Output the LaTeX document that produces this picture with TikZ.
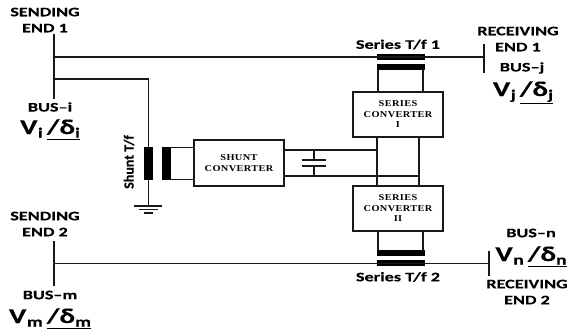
\documentclass[tikz,border=0pt]{standalone}
\usepackage{fontspec}
\setmainfont{Carlito}
\newfontfamily\lblfont{Carlito Bold}[FakeStretch=1.4,FakeBold=0.25]
\newfontfamily\plainbold{Carlito Bold}[FakeBold=0.25]
\newfontfamily\convfont{Liberation Serif Bold}[FakeStretch=1.15,LetterSpace=4]
\newcommand{\phasorlabel}[2]{{\lblfont\fontsize{21}{21}\selectfont V\kern0.5pt\raisebox{-3.5pt}{\fontsize{14}{14}\selectfont #1}\kern4pt\underline{/δ\raisebox{-3.5pt}{\fontsize{14}{14}\selectfont #2}}}}
\tikzset{
  wire/.style={line width=1.5pt,black!90},
  busbar/.style={line width=1.7pt,black!90},
  boxnode/.style={draw=black!90,line width=1.7pt,fill=white,inner sep=0pt,align=center,font=\convfont\fontsize{9}{10.5}\selectfont},
  core/.style={fill=black,draw=none,inner sep=0pt},
  lbl/.style={inner sep=0pt,align=center,font=\lblfont\fontsize{13}{16}\selectfont},
  sidelbl/.style={inner sep=0pt,rotate=90,font=\plainbold\fontsize{14}{16}\selectfont},
  phasor/.style={inner sep=0pt,anchor=base}
}
\begin{document}
\begin{tikzpicture}[x=1pt,y=-1pt]
\useasboundingbox (0,0) rectangle (570,335);
% boxes
\node[boxnode,minimum width=90pt,minimum height=46pt] (shunt) at (239,163) {SHUNT\\CONVERTER};
\node[boxnode,minimum width=90pt,minimum height=45pt] (ser1) at (398,114.5) {SERIES\\CONVERTER\\I};
\node[boxnode,minimum width=90pt,minimum height=45pt] (ser2) at (398,208.5) {SERIES\\CONVERTER\\II};
% transformer cores
\node[core,minimum width=48pt,minimum height=6pt] (t1p) at (401,57) {};
\node[core,minimum width=48pt,minimum height=6pt] (t1s) at (401,67) {};
\node[core,minimum width=48pt,minimum height=6pt] (t2s) at (401,253) {};
\node[core,minimum width=48pt,minimum height=6pt] (t2p) at (401,263) {};
\node[core,minimum width=9pt,minimum height=33pt] (shp) at (148.5,163.5) {};
\node[core,minimum width=9pt,minimum height=33pt] (shs) at (166,163.5) {};
% bus ends
\coordinate (bi1) at (54,34); \coordinate (bi2) at (54,99);
\coordinate (bj1) at (484,44); \coordinate (bj2) at (484,73);
\coordinate (bm1) at (54,241); \coordinate (bm2) at (54,286);
\coordinate (bn1) at (489,251); \coordinate (bn2) at (489,276);
\coordinate (ti) at (54,57); \coordinate (tj) at (484,57);
\coordinate (bri) at (54,79); \coordinate (brc) at (148.5,79);
\coordinate (tm) at (54,263.5); \coordinate (tn) at (489,263.5);
\draw[busbar] (bi1) -- (bi2);
\draw[busbar] (bj1) -- (bj2);
\draw[busbar] (bm1) -- (bm2);
\draw[busbar] (bn1) -- (bn2);
% lines
\draw[wire] (ti) -- (tj);
\draw[wire] (tm) -- (tn);
\draw[wire] (bri) -- (brc) -- (shp.north);
% ground
\coordinate (g0) at (148.5,206);
\coordinate (g1a) at (134,206); \coordinate (g1b) at (162,206);
\coordinate (g2a) at (139,209.5); \coordinate (g2b) at (158,209.5);
\coordinate (g3a) at (144,213); \coordinate (g3b) at (153,213);
\draw[wire] (shp.south) -- (g0);
\draw[wire] (g1a) -- (g1b);
\draw[wire] (g2a) -- (g2b);
\draw[wire] (g3a) -- (g3b);
% shunt secondary
\coordinate (sa1) at (169,147.7); \coordinate (sa2) at (194,147.7);
\coordinate (sb1) at (169,179.3); \coordinate (sb2) at (194,179.3);
\draw[wire] (sa1) -- (sa2);
\draw[wire] (sb1) -- (sb2);
% dc link
\coordinate (dcT1) at (284,150); \coordinate (dcT2) at (377,150);
\coordinate (dcB1) at (284,176); \coordinate (dcB2) at (419,176);
\coordinate (c1) at (314,150); \coordinate (c2) at (314,160);
\coordinate (c3) at (314,166); \coordinate (c4) at (314,176);
\coordinate (p1a) at (302,160); \coordinate (p1b) at (326,160);
\coordinate (p2a) at (302,166); \coordinate (p2b) at (326,166);
\draw[wire] (dcT1) -- (dcT2);
\draw[wire] (dcB1) -- (dcB2);
\draw[wire] (c1) -- (c2);
\draw[wire] (c3) -- (c4);
\draw[wire] (p1a) -- (p1b);
\draw[wire] (p2a) -- (p2b);
% verticals between series converters
\coordinate (v1t) at (377,137); \coordinate (v1b) at (377,186);
\coordinate (v2t) at (419,137); \coordinate (v2b) at (419,186);
\draw[busbar] (v1t) -- (v1b);
\draw[busbar] (v2t) -- (v2b);
% series transformer leads
\coordinate (a1t) at (378,70); \coordinate (a1b) at (378,92);
\coordinate (a2t) at (423,70); \coordinate (a2b) at (423,92);
\coordinate (b1t) at (378,231); \coordinate (b1b) at (378,250);
\coordinate (b2t) at (423,231); \coordinate (b2b) at (423,250);
\draw[busbar] (a1t) -- (a1b);
\draw[busbar] (a2t) -- (a2b);
\draw[busbar] (b1t) -- (b1b);
\draw[busbar] (b2t) -- (b2b);
% labels
\node[lbl] (se1) at (45,20) {SENDING\\END 1};
\node[lbl] (busi) at (50,107) {BUS–i};
\node[phasor] (vi) at (50,134) {\phasorlabel{i}{i}};
\node[lbl] (re1) at (518,39) {RECEIVING\\END 1};
\node[lbl] (busj) at (522,68) {BUS–j};
\node[phasor] (vj) at (523,96) {\phasorlabel{j}{j}};
\node[lbl] (se2) at (45,224) {SENDING\\END 2};
\node[lbl] (busm) at (50,295) {BUS–m};
\node[phasor] (vm) at (50,323) {\phasorlabel{m}{m}};
\node[lbl] (busn) at (531,233) {BUS–n};
\node[phasor] (vn) at (531,261) {\phasorlabel{n}{n}};
\node[lbl] (re2) at (527,292) {RECEIVING\\END 2};
\node[lbl] (st1) at (398,44.5) {Series T/f 1};
\node[lbl] (st2) at (398,277) {Series T/f 2};
\node[sidelbl] (sht) at (129,162) {Shunt T/f};
\end{tikzpicture}
\end{document}
